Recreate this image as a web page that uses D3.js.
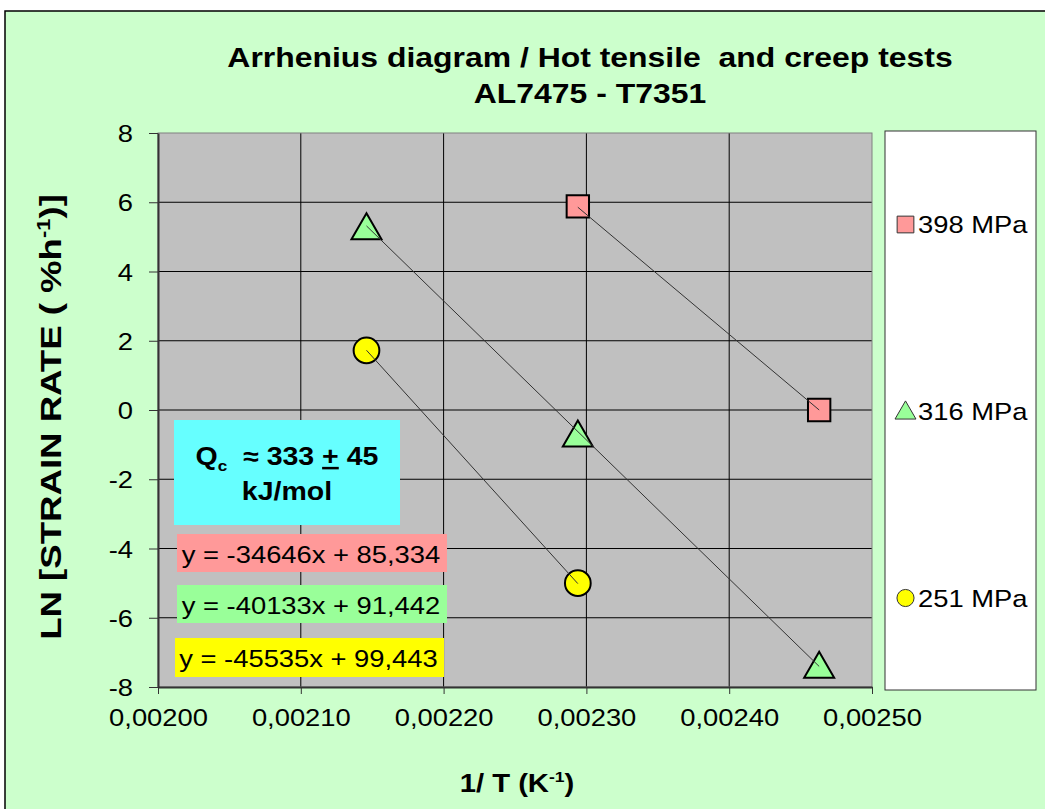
<!DOCTYPE html>
<html><head><meta charset="utf-8">
<script src="https://cdn.jsdelivr.net/npm/d3@7"></script>
<style>
body{margin:0;background:#fff;}
svg{display:block;}
</style></head>
<body>
<svg id="c" width="1045" height="809"></svg>
<script>
const seriesNames = ["398 MPa", "316 MPa", "251 MPa"];
const xs398 = [0.002294, 0.002463];
const ys398 = [5.88, 0.0];
const xs316 = [0.002146, 0.002294, 0.002463];
const ys316 = [5.30, -0.69, -7.37];
const xs251 = [0.002146, 0.002294];
const ys251 = [1.72, -5.0];
const slopes = [-34646, -40133, -45535];
const intercepts = [85.334, 91.442, 99.443];
const eqLabels = ["y = -34646x + 85,334", "y = -40133x + 91,442", "y = -45535x + 99,443"];
const xTicks = [0.0020, 0.0021, 0.0022, 0.0023, 0.0024, 0.0025];
const yTicks = [-8, -6, -4, -2, 0, 2, 4, 6, 8];
const fills = ["#ff9999", "#99ff99", "#ffff00"];
const symbols = [d3.symbolSquare, d3.symbolTriangle, d3.symbolCircle];

const SX = 1.14;
const svg = d3.select("#c");
const sans = "'Liberation Sans',Arial,sans-serif";

function txt(parent, x, y, size, opts={}) {
  const t = parent.append("text")
    .attr("transform", `translate(${x},${y})` + (opts.rot ? ` rotate(${opts.rot})` : "") + ` scale(${opts.sx||SX},1)`)
    .attr("font-family", sans).attr("font-size", size)
    .attr("text-anchor", opts.anchor || "start")
    .attr("fill", "#000");
  if (opts.bold) t.attr("font-weight", "bold");
  return t;
}

// chart background
svg.append("rect").attr("x",5).attr("y",11).attr("width",1045).attr("height",809)
  .attr("fill","#ccffcc").attr("stroke","#000").attr("stroke-width",1.5);

const L=158, R=872, T=133, B=687;
const x = d3.scaleLinear().domain([0.0020,0.0025]).range([L,R]);
const y = d3.scaleLinear().domain([-8,8]).range([B,T]);

svg.append("rect").attr("x",L).attr("y",T).attr("width",R-L).attr("height",B-T).attr("fill","#c0c0c0");

// grid
const g = svg.append("g");
g.selectAll(".vg").data(xTicks.slice(1,-1)).join("line")
  .attr("x1",d=>x(d)).attr("x2",d=>x(d)).attr("y1",T).attr("y2",B)
  .attr("stroke","#000").attr("stroke-width",1);
g.selectAll(".hg").data(yTicks.slice(1,-1)).join("line")
  .attr("y1",d=>y(d)).attr("y2",d=>y(d)).attr("x1",L).attr("x2",R)
  .attr("stroke","#000").attr("stroke-width",1);
svg.append("rect").attr("x",L).attr("y",T).attr("width",R-L).attr("height",B-T)
  .attr("fill","none").attr("stroke","#808080").attr("stroke-width",1);

// axes
const xAxis = d3.axisBottom(x).tickValues(xTicks).tickSize(7).tickSizeOuter(0)
  .tickFormat(d=>d3.format(".5f")(d).replace(".",","));
const xa = svg.append("g").attr("transform",`translate(0,${B})`).call(xAxis);
xa.select(".domain").attr("stroke","#333").attr("stroke-width",2);
xa.selectAll(".tick line").attr("stroke","#333");
xa.selectAll("text").attr("font-family",sans).attr("font-size",24).attr("fill","#000")
  .attr("y",39).attr("dy",0).attr("transform",`scale(${SX},1)`);

const yAxis = d3.axisLeft(y).tickValues(yTicks).tickSize(9).tickSizeOuter(0).tickFormat(d=>String(d));
const ya = svg.append("g").attr("transform",`translate(${L},0)`).call(yAxis);
ya.select(".domain").attr("stroke","#333").attr("stroke-width",2);
ya.selectAll(".tick line").attr("stroke","#333");
ya.selectAll("text").attr("font-family",sans).attr("font-size",24).attr("fill","#000")
  .attr("x",-25/SX).attr("dy","0.36em").attr("transform",`scale(${SX},1)`);

// series
const series = [
  {xs:xs398, ys:ys398},
  {xs:xs316, ys:ys316},
  {xs:xs251, ys:ys251}
];
const sizes = [500, 390, 520];
const yOff = [0, 4, 0];
series.forEach((s,i)=>{
  const pts = s.xs.map((v,j)=>[v,s.ys[j]]);
  const gg = svg.append("g");
  gg.selectAll("path.m").data(pts).join("path")
    .attr("d", d3.symbol().type(symbols[i]).size(sizes[i]))
    .attr("transform",d=>`translate(${x(d[0])},${y(d[1]) + yOff[i]})`)
    .attr("fill",fills[i]).attr("stroke","#000").attr("stroke-width",2);
  const x0 = d3.min(s.xs), x1 = d3.max(s.xs);
  gg.append("line")
    .attr("x1",x(x0)).attr("y1",y(slopes[i]*x0+intercepts[i]))
    .attr("x2",x(x1)).attr("y2",y(slopes[i]*x1+intercepts[i]))
    .attr("stroke","#333").attr("stroke-width",1);
});

// title
txt(svg, 590, 67, 28, {bold:true, anchor:"middle"})
  .attr("xml:space","preserve").text("Arrhenius diagram / Hot tensile  and creep tests");
txt(svg, 590, 103, 28, {bold:true, anchor:"middle"}).text("AL7475 - T7351");

// axis titles
const yt = txt(svg, 61, 417, 30, {bold:true, anchor:"middle", rot:-90, sx:1.22});
yt.append("tspan").text("LN [STRAIN RATE ( %h");
yt.append("tspan").attr("font-size",18).attr("dy",-11).text("-1");
yt.append("tspan").attr("dy",11).text(")]");

const xt = txt(svg, 517, 792, 25, {bold:true, anchor:"middle", sx:1.17});
xt.append("tspan").text("1/ T (K");
xt.append("tspan").attr("font-size",15).attr("dy",-10).text("-1");
xt.append("tspan").attr("dy",10).text(")");

// legend
svg.append("rect").attr("x",885).attr("y",131).attr("width",151).attr("height",559)
  .attr("fill","#fff").attr("stroke","#333").attr("stroke-width",1);
const legY = [224.5, 411, 598];
const legSizes = [280, 190, 230];
seriesNames.forEach((n,i)=>{
  svg.append("path").attr("d", d3.symbol().type(symbols[i]).size(legSizes[i])())
    .attr("transform",`translate(905.5,${legY[i] + (i===1?2:0)})`)
    .attr("fill",fills[i]).attr("stroke","#333").attr("stroke-width",1);
  txt(svg, 918, legY[i]+8.5, 24).text(n);
});

// Qc box
svg.append("rect").attr("x",174).attr("y",420).attr("width",226).attr("height",105).attr("fill","#66ffff");
const q = txt(svg, 287, 465, 25, {bold:true, anchor:"middle"}).attr("xml:space","preserve");
q.append("tspan").text("Q");
q.append("tspan").attr("font-size",15).attr("dy",6).text("c");
q.append("tspan").attr("dy",-6).text("  ≈ 333 ");
q.append("tspan").attr("text-decoration","underline").text("+");
q.append("tspan").text(" 45");
txt(svg, 287, 500, 25, {bold:true, anchor:"middle"}).text("kJ/mol");

// equation boxes
const eqBox = [[177,534,270,38],[177,585,270,38],[175,638,269,39]];
eqLabels.forEach((t,i)=>{
  const b = eqBox[i];
  svg.append("rect").attr("x",b[0]).attr("y",b[1]).attr("width",b[2]).attr("height",b[3]).attr("fill",fills[i]);
  txt(svg, b[0]+b[2]/2-1, b[1]+29, 24, {anchor:"middle"}).text(t);
});
</script>
</body></html>
